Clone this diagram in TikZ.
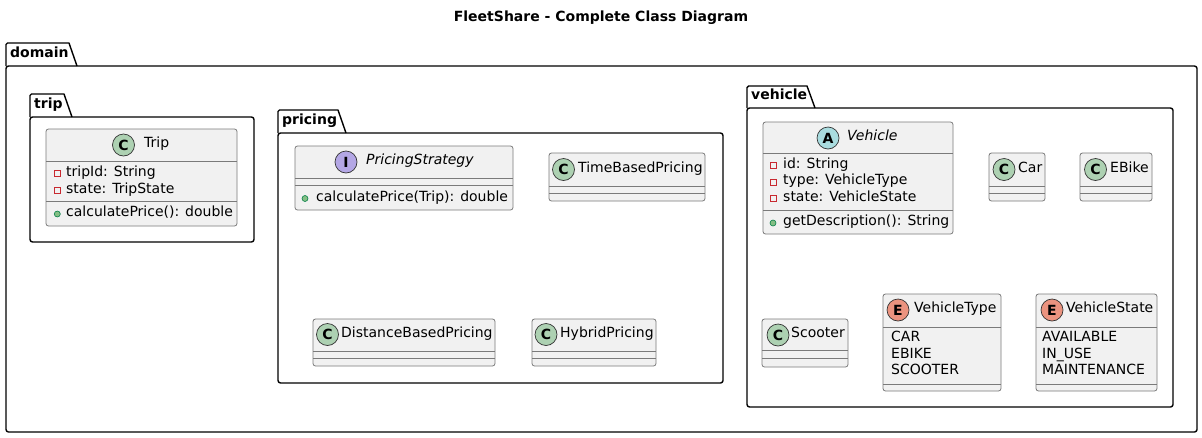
\documentclass[tikz,border=0pt]{standalone}
\usepackage{fontspec}
\setmainfont{DejaVu Sans}
\definecolor{boxbg}{HTML}{F1F1F1}
\definecolor{boxline}{HTML}{7A7A7A}
\definecolor{spotC}{HTML}{ADD1B2}
\definecolor{spotI}{HTML}{B4A7E5}
\definecolor{spotA}{HTML}{A9DCDF}
\definecolor{spotE}{HTML}{EB937F}
\definecolor{privred}{HTML}{C82930}
\definecolor{pubfill}{HTML}{84BE84}
\definecolor{publine}{HTML}{038048}
\tikzset{
  pkgline/.style={draw=black, line width=1.4pt, line join=round},
  pkglabel/.style={anchor=mid west, inner sep=0pt, font=\bfseries\fontsize{14}{16}\selectfont},
  classbox/.style={draw=boxline, fill=boxbg, line width=0.8pt, rounded corners=2.5pt, inner sep=0pt, outer sep=0pt},
  divider/.style={draw=boxline, line width=0.8pt},
  member/.style={anchor=mid west, inner sep=0pt, font=\fontsize{14}{16}\selectfont},
  cname/.style={anchor=mid west, inner sep=0pt, font=\fontsize{14}{16}\selectfont},
  spot/.style={circle, draw=black!80, line width=0.7pt, minimum size=22pt, inner sep=0pt, font=\bfseries\fontsize{14}{14}\selectfont},
  privicon/.style={draw=privred, line width=0.8pt},
  pubicon/.style={draw=publine, fill=pubfill, line width=0.6pt},
}
\newcommand\umlpkg[8]{% name, label, x1, ytab, xtab, ybody, x2, y2
  \draw[pkgline, fill=white, rounded corners=2.5pt] (#3,#6) rectangle (#7,#8);
  \draw[pkgline] (#3,#6) [rounded corners=1.5pt] -- (#3,#4) [sharp corners] -- ({#5-8},#4) -- (#5,#6);
  \node[pkglabel] (#1) at ({#3+4},{(#4+#6)/2}) {#2};
}
\newcommand\umlclass[7]{% name, x1, y1, x2, y2, d1, d2
  \node[classbox, anchor=north west, minimum width={#4-#2}, minimum height={#5-#3}] (#1) at (#2,#3) {};
  \draw[divider] (#2,#6) -- (#4,#6);
  \draw[divider] (#2,#7) -- (#4,#7);
}
\newcommand\privmark[2]{\draw[privicon] ({#1-3},{#2-3}) rectangle ({#1+3},{#2+3});}
\newcommand\pubmark[2]{\draw[pubicon] (#1,#2) circle (3);}
\begin{document}
\begin{tikzpicture}[x=1pt,y=-1pt]
\useasboundingbox (0,0) rectangle (1202,437);
\node[font=\bfseries\fontsize{14}{16}\selectfont, inner sep=0pt] (title) at (601,18) {FleetShare - Complete Class Diagram};

% packages
\umlpkg{domain}{domain}{6}{43}{77}{66}{1197}{432}
\umlpkg{trip}{trip}{30}{94}{72}{117}{254}{242}
\umlpkg{pricing}{pricing}{278}{110}{346}{133}{723}{383}
\umlpkg{vehicle}{vehicle}{747}{86}{815}{108}{1173}{407}

% Trip
\umlclass{Trip}{46}{129}{237}{226}{161}{201}
\node[spot, fill=spotC] (Trip-spot) at (123.5,145) {C};
\node[cname] (Trip-name) at (144,145) {Trip};
\privmark{57.3}{173.7}
\node[member] (Trip-a1) at (66,174) {tripId: String};
\privmark{57.3}{190.7}
\node[member] (Trip-a2) at (66,191) {state: TripState};
\pubmark{57.3}{214}
\node[member] (Trip-m1) at (66,214) {calculatePrice(): double};

% PricingStrategy
\umlclass{PricingStrategy}{295}{146}{513}{210}{178}{185}
\node[spot, fill=spotI] (PS-spot) at (346,162) {I};
\node[cname, font=\itshape\fontsize{14}{16}\selectfont] (PS-name) at (366,162) {PricingStrategy};
\pubmark{305}{198.5}
\node[member] (PS-m1) at (316,198.5) {calculatePrice(Trip): double};

% TimeBasedPricing
\umlclass{TimeBasedPricing}{549}{153}{705}{201}{186}{193}
\node[spot, fill=spotC] (TBP-spot) at (563.5,169.5) {C};
\node[cname] (TBP-name) at (578,169.5) {TimeBasedPricing};

% DistanceBasedPricing
\umlclass{DistanceBasedPricing}{313}{319}{495}{366}{351}{358}
\node[spot, fill=spotC] (DBP-spot) at (327.5,334.5) {C};
\node[cname] (DBP-name) at (341,334.5) {DistanceBasedPricing};

% HybridPricing
\umlclass{HybridPricing}{532}{319}{656}{366}{351}{358}
\node[spot, fill=spotC] (HP-spot) at (546,334.5) {C};
\node[cname] (HP-name) at (560,334.5) {HybridPricing};

% Vehicle
\umlclass{Vehicle}{763}{122}{953}{234}{153}{210}
\node[spot, fill=spotA] (V-spot) at (828,138) {A};
\node[cname, font=\itshape\fontsize{14}{16}\selectfont] (V-name) at (847,138) {Vehicle};
\privmark{773}{165.5}
\node[member] (V-a1) at (783,165.5) {id: String};
\privmark{773}{182}
\node[member] (V-a2) at (783,182) {type: VehicleType};
\privmark{773}{198.5}
\node[member] (V-a3) at (783,198.5) {state: VehicleState};
\pubmark{773}{223}
\node[member] (V-m1) at (783,223) {getDescription(): String};

% Car
\umlclass{Car}{989}{153}{1045}{201}{186}{193}
\node[spot, fill=spotC] (Car-spot) at (1004,169.5) {C};
\node[cname] (Car-name) at (1018,169.5) {Car};

% EBike
\umlclass{EBike}{1080}{153}{1152}{201}{186}{193}
\node[spot, fill=spotC] (EBike-spot) at (1095.5,169.5) {C};
\node[cname] (EBike-name) at (1110,169.5) {EBike};

% Scooter
\umlclass{Scooter}{762}{319}{848}{367}{350}{358}
\node[spot, fill=spotC] (Sc-spot) at (778,335) {C};
\node[cname] (Sc-name) at (791,335) {Scooter};

% VehicleType
\umlclass{VehicleType}{883}{294}{1001}{391}{327}{384}
\node[spot, fill=spotE] (VT-spot) at (898,310) {E};
\node[cname] (VT-name) at (914,310) {VehicleType};
\node[member] (VT-v1) at (891,339) {CAR};
\node[member] (VT-v2) at (891,355.5) {EBIKE};
\node[member] (VT-v3) at (891,371.5) {SCOOTER};

% VehicleState
\umlclass{VehicleState}{1036}{294}{1157}{391}{327}{384}
\node[spot, fill=spotE] (VS-spot) at (1052,310) {E};
\node[cname] (VS-name) at (1066,310) {VehicleState};
\node[member] (VS-v1) at (1042,339) {AVAILABLE};
\node[member] (VS-v2) at (1042,355.5) {IN\_USE};
\node[member] (VS-v3) at (1042,371.5) {MAINTENANCE};
\end{tikzpicture}
\end{document}
